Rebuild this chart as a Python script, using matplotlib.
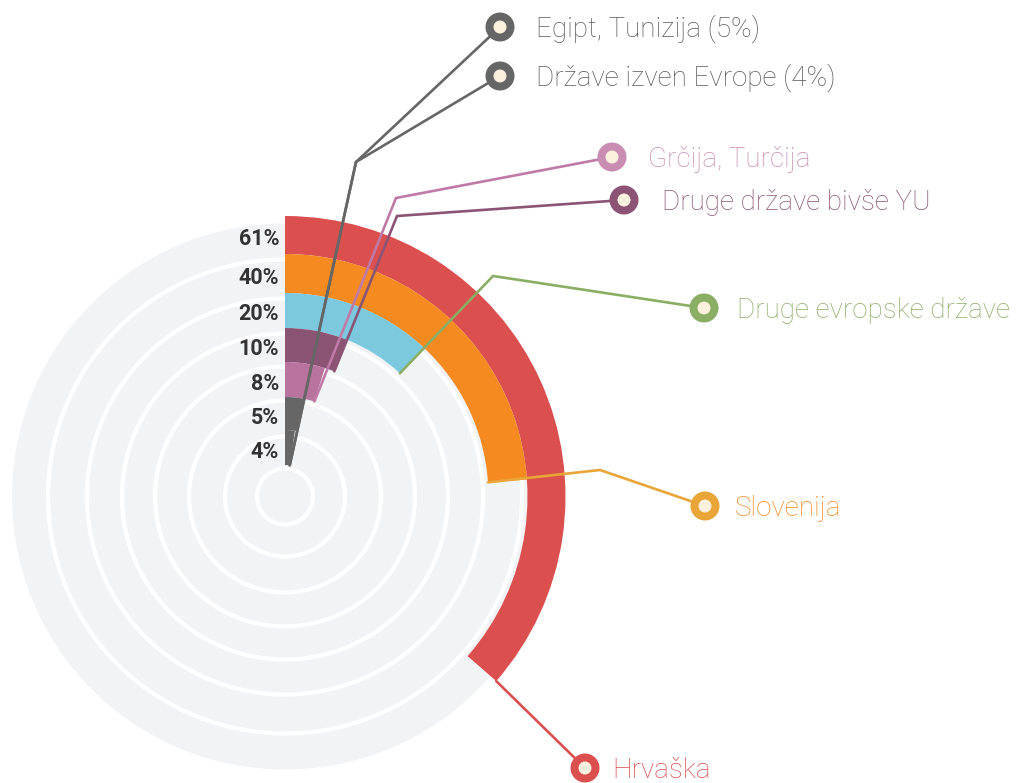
import numpy as np
import matplotlib
matplotlib.use("Agg")
import matplotlib.pyplot as plt
from matplotlib.patches import Wedge, Circle

# ---- data ----
categories = ['Hrvaška', 'Slovenija', 'Druge evropske države', 'Druge države bivše YU',
              'Grčija, Turčija', 'Egipt, Tunizija (5%)', 'Države izven Evrope (4%)']
values = [61, 40, 20, 10, 8, 5, 4]
pct_labels = ['61%', '40%', '20%', '10%', '8%', '5%', '4%']

bar_colors = ['#db4f4f', '#f58a20', '#7cc9df', '#8b5475', '#b8739f', '#666666', '#666666']
line_colors = ['#db4f4f', '#e9a537', '#8aae64', '#8b5475', '#c07aa8', '#666666', '#666666']
text_colors = ['#db4f4f', '#f28a21', '#8aae64', '#8b5475', '#c98db4', '#5a5a5a', '#5a5a5a']

# ---- layout ----
W, H = 1022, 783
cx, cy = 285, 496.5
deg_per_pct = 2.15
outer_r = [280.5, 242.5, 203.5, 168.5, 134.5, 99.5, 66.5]
inner_r = [242.5, 203.5, 168.5, 134.5, 99.5, 66.5, 31.5]
bg_r = 273
ring_r = [237, 198, 163, 130, 96, 60, 28]

# annotation layout: attach side ('o' outer / 'i' inner), elbows, marker position, text x
attach = ['o', 'i', 'i', 'i', 'i', 'i', 'i']
elbows = [[], [(600, 470)], [(493, 276)], [(397, 216)], [(396, 198)], [(356, 162)], [(356, 162)]]
markers = [(585, 768), (705, 506), (704, 308), (624, 200), (612, 157), (500, 27), (500, 76)]
text_x = [612, 735, 737, 662, 648, 536, 536]

fig = plt.figure(figsize=(W / 100, H / 100), dpi=100)
ax = fig.add_axes([0, 0, 1, 1])
ax.set_xlim(0, W)
ax.set_ylim(H, 0)
ax.axis('off')

# background disk and white rings
ax.add_patch(Circle((cx, cy), bg_r, facecolor='#f2f3f5', edgecolor='none', zorder=1))
for r in ring_r:
    ax.add_patch(Circle((cx, cy), r, facecolor='none', edgecolor='white', lw=3.0, zorder=2))


def pt(angle_deg, r):
    a = np.deg2rad(angle_deg)
    return cx + r * np.sin(a), cy - r * np.cos(a)


# bars
for v, ro, ri, c in zip(values, outer_r, inner_r, bar_colors):
    ang = v * deg_per_pct
    ax.add_patch(Wedge((cx, cy), ro, -90, ang - 90, width=ro - ri,
                       facecolor=c, edgecolor='none', zorder=3))

# percent labels
for lab, ro, ri in zip(pct_labels, outer_r, inner_r):
    ax.text(cx - 6, (ro + ri) / 2 * -1 + cy + 4, lab, ha='right', va='center',
            fontsize=15.5, fontweight='bold', family='Roboto', color='#333333', zorder=5)

# leader lines, markers and labels
for i, (v, name) in enumerate(zip(values, categories)):
    ang = v * deg_per_pct
    r = outer_r[i] if attach[i] == 'o' else inner_r[i]
    if i == 5:
        # shares the path of the 4% line through the elbow
        start = pt(values[6] * deg_per_pct, inner_r[6])
    else:
        start = pt(ang, r)
    pts = [start] + elbows[i] + [markers[i]]
    xs, ys = zip(*pts)
    ax.plot(xs, ys, color=line_colors[i], lw=1.9, zorder=6, solid_capstyle='round',
            solid_joinstyle='miter')
    mx, my = markers[i]
    ax.add_patch(Circle((mx, my), 14.5, facecolor=line_colors[i] if i not in (4,) else '#c98db4',
                        edgecolor='none', zorder=7))
    ax.add_patch(Circle((mx, my), 6.5, facecolor='#fbf1dc', edgecolor='none', zorder=8))
    ax.text(text_x[i], my + 10, name, ha='left', va='baseline', fontsize=20,
            family='Roboto', fontweight='light', color=text_colors[i], zorder=8)

fig.savefig('out.png', dpi=100)
